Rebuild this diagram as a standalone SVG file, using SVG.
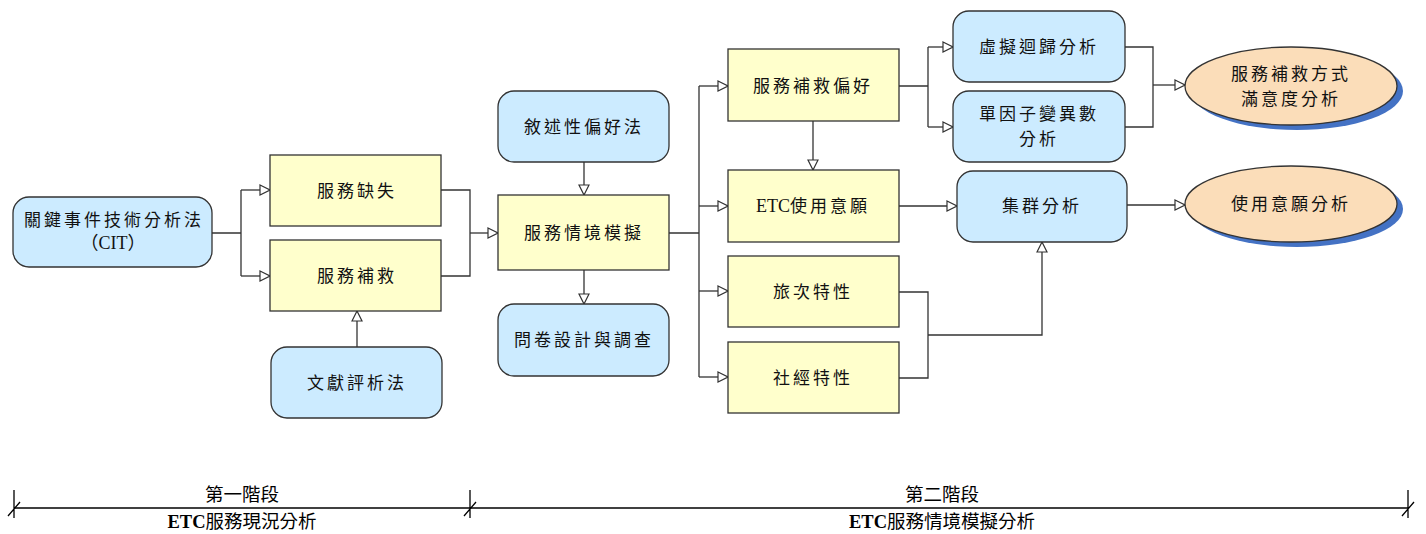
<svg xmlns="http://www.w3.org/2000/svg" width="1426" height="534" viewBox="0 0 1426 534">
<style>
.y{fill:#FFFFCC;stroke:#333;stroke-width:1.3}
.b{fill:#CCEBFF;stroke:#333;stroke-width:1.3}
.e{fill:#FBDDB9;stroke:#333;stroke-width:1.3}
.s{fill:#4472C4}
.t{font-family:"Liberation Serif","Noto Sans CJK TC",serif;font-size:17px;letter-spacing:3px;text-anchor:middle;fill:#111}
.n{letter-spacing:0;font-size:18px}
.c{fill:none;stroke:#333;stroke-width:1.3}
.l{fill:none;stroke:#000;stroke-width:1.3}
.h{font-family:"Noto Sans CJK TC",sans-serif;font-size:18.5px;text-anchor:middle;fill:#000}
.hb{font-family:"Liberation Serif",serif;font-weight:bold}
</style>
<defs>
<marker id="a" viewBox="0 0 12 12" refX="11" refY="6" markerWidth="12" markerHeight="12" markerUnits="userSpaceOnUse" orient="auto">
<path d="M1,1 L11,6 L1,11 Z" fill="#fff" stroke="#333" stroke-width="1.2"/>
</marker>
</defs>
<g id="connectors">
<path class="c" d="M212,233 H241 M241,190 V276"/>
<path class="c" d="M241,190 H270" marker-end="url(#a)"/>
<path class="c" d="M241,276 H270" marker-end="url(#a)"/>
<path class="c" d="M357,347 V311" marker-end="url(#a)"/>
<path class="c" d="M441,190 H470 V276 H441"/>
<path class="c" d="M470,233 H498" marker-end="url(#a)"/>
<path class="c" d="M584,162 V195" marker-end="url(#a)"/>
<path class="c" d="M584,270 V304" marker-end="url(#a)"/>
<path class="c" d="M669,233 H699 M699,86 V377"/>
<path class="c" d="M699,86 H728" marker-end="url(#a)"/>
<path class="c" d="M699,206 H728" marker-end="url(#a)"/>
<path class="c" d="M699,291 H728" marker-end="url(#a)"/>
<path class="c" d="M699,377 H728" marker-end="url(#a)"/>
<path class="c" d="M813,121 V170" marker-end="url(#a)"/>
<path class="c" d="M899,86 H928 M928,47 V127"/>
<path class="c" d="M928,47 H953" marker-end="url(#a)"/>
<path class="c" d="M928,127 H953" marker-end="url(#a)"/>
<path class="c" d="M1125,47 H1153 V127 H1125"/>
<path class="c" d="M1153,85 H1185" marker-end="url(#a)"/>
<path class="c" d="M899,206 H957" marker-end="url(#a)"/>
<path class="c" d="M1127,205 H1185" marker-end="url(#a)"/>
<path class="c" d="M899,292 H928 V378 H899 M928,335 H1042 V242" marker-end="url(#a)"/>
</g>
<g id="cit"><rect class="b" x="13" y="197" width="199" height="70" rx="16"/><text class="t" x="114" y="226">關鍵事件技術分析法</text><text class="t n" x="113" y="249">（CIT）</text></g>
<g id="n-shortfall"><rect class="y" x="270" y="155" width="171" height="71"/><text class="t" x="357" y="197">服務缺失</text></g>
<g id="n-recovery"><rect class="y" x="270" y="240" width="171" height="71"/><text class="t" x="357" y="282">服務補救</text></g>
<g id="n-literature"><rect class="b" x="271" y="347" width="171" height="71" rx="16"/><text class="t" x="357" y="389">文獻評析法</text></g>
<g id="n-sp"><rect class="b" x="498" y="91" width="171" height="71" rx="16"/><text class="t" x="584" y="133">敘述性偏好法</text></g>
<g id="n-scenario"><rect class="y" x="498" y="195" width="171" height="75"/><text class="t" x="584" y="239">服務情境模擬</text></g>
<g id="n-survey"><rect class="b" x="498" y="304" width="171" height="72" rx="16"/><text class="t" x="584" y="346">問卷設計與調查</text></g>
<g id="n-pref"><rect class="y" x="728" y="49" width="171" height="72"/><text class="t" x="813" y="92">服務補救偏好</text></g>
<g id="n-intent"><rect class="y" x="728" y="170" width="171" height="72"/><text class="t" x="813" y="212"><tspan class="n">ETC</tspan>使用意願</text></g>
<g id="n-trip"><rect class="y" x="728" y="256" width="171" height="71"/><text class="t" x="813" y="298">旅次特性</text></g>
<g id="n-socio"><rect class="y" x="728" y="342" width="171" height="71"/><text class="t" x="813" y="384">社經特性</text></g>
<g id="n-dummy"><rect class="b" x="953" y="11" width="172" height="71" rx="16"/><text class="t" x="1039" y="53">虛擬迴歸分析</text></g>
<g id="n-anova"><rect class="b" x="953" y="91" width="172" height="71" rx="16"/><text class="t" x="1039" y="120">單因子變異數</text><text class="t" x="1039" y="145">分析</text></g>
<g id="n-cluster"><rect class="b" x="957" y="171" width="170" height="71" rx="16"/><text class="t" x="1042" y="212">集群分析</text></g>
<g id="n-satisfaction"><ellipse class="s" cx="1297" cy="91" rx="106" ry="39"/><ellipse class="e" cx="1291" cy="86" rx="106" ry="39"/><text class="t" x="1291" y="80">服務補救方式</text><text class="t" x="1291" y="105">滿意度分析</text></g>
<g id="n-usage"><ellipse class="s" cx="1297" cy="209" rx="106" ry="38"/><ellipse class="e" cx="1291" cy="204" rx="106" ry="38"/><text class="t" x="1291" y="210">使用意願分析</text></g>
<g id="timeline">
<path class="l" d="M14,508 H1408"/>
<path class="l" d="M14,490 V518 M8,516 L20,502"/>
<path class="l" d="M470,490 V518 M464,516 L476,502"/>
<path class="l" d="M1408,490 V518 M1402,516 L1414,502"/>
<text class="h" x="242" y="501">第一階段</text>
<text class="h" x="242" y="528"><tspan class="hb">ETC</tspan>服務現況分析</text>
<text class="h" x="942" y="501">第二階段</text>
<text class="h" x="942" y="528"><tspan class="hb">ETC</tspan>服務情境模擬分析</text>
</g>
</svg>
